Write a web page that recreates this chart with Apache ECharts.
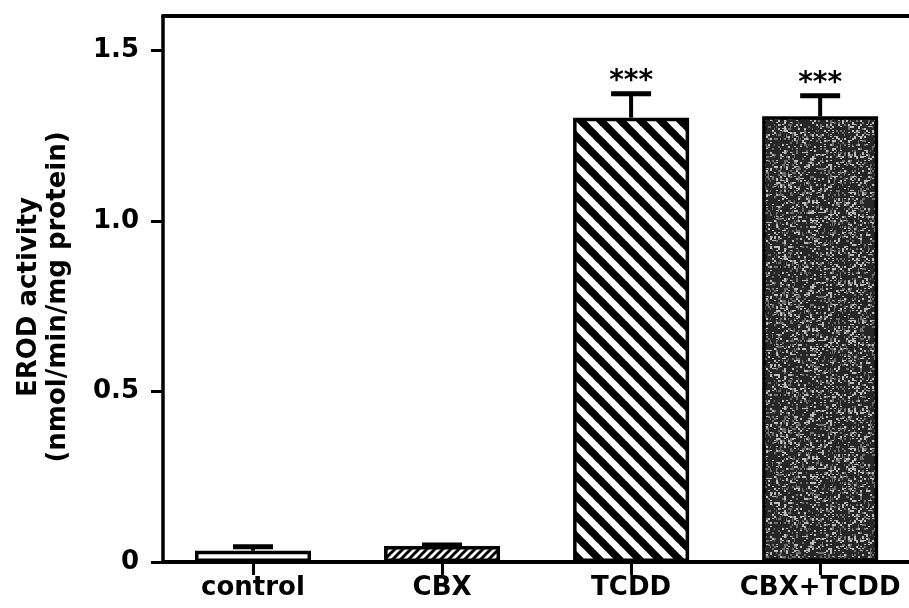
<!DOCTYPE html>
<html>
<head>
<meta charset="utf-8">
<script src="https://cdn.jsdelivr.net/npm/echarts@6/dist/echarts.min.js"></script>
<style>
html,body{margin:0;padding:0;background:#fff;}
#chart{width:909px;height:608px;}
</style>
</head>
<body>
<div id="chart"></div>
<script>
// ---- data ----
const categories = ['control', 'CBX', 'TCDD', 'CBX+TCDD'];
const positions = [1, 2, 3, 4];
const values = [0.033, 0.047, 1.302, 1.306];
const errors = [0.012, 0.003, 0.070, 0.060];
const significance = ['', '', '***', '***'];
const yTicks = [0, 0.5, 1.0, 1.5];
const yAxisTitle = 'EROD activity\n(nmol/min/mg protein)';

// ---- fill patterns ----
function makeCanvas(w, h, draw) {
  const c = document.createElement('canvas');
  c.width = w; c.height = h;
  const ctx = c.getContext('2d');
  draw(ctx, w, h);
  return c;
}
const whiteFill = '#ffffff';
const smallHatch = makeCanvas(8, 8, (ctx, w, h) => {
  ctx.fillStyle = '#fff'; ctx.fillRect(0, 0, w, h);
  ctx.strokeStyle = '#000'; ctx.lineWidth = 3;
  for (let k = -16; k <= 16; k += 8) {
    ctx.beginPath(); ctx.moveTo(k - 4, h + 4); ctx.lineTo(k + w + 4, -4); ctx.stroke();
  }
});
const wideStripes = makeCanvas(20, 20, (ctx, w, h) => {
  ctx.fillStyle = '#fff'; ctx.fillRect(0, 0, w, h);
  ctx.strokeStyle = '#000'; ctx.lineWidth = 7.5;
  for (let k = -40; k <= 40; k += 20) {
    ctx.beginPath(); ctx.moveTo(k - 10, -10); ctx.lineTo(k + w + 10, h + 10); ctx.stroke();
  }
});
const speckle = makeCanvas(128, 128, (ctx, w, h) => {
  ctx.fillStyle = '#262626'; ctx.fillRect(0, 0, w, h);
  for (let y = 0; y < h; y += 2) {
    for (let x = 0; x < w; x += 2) {
      const s = Math.sin(x * 12.9898 + y * 78.233) * 43758.5453;
      const r = s - Math.floor(s);
      if (r > 0.8) { ctx.fillStyle = '#bdbdbd'; ctx.fillRect(x, y, 2, 1 + (r > 0.9 ? 1 : 0)); }
      else if (r > 0.62) { ctx.fillStyle = '#6e6e6e'; ctx.fillRect(x, y, 1 + (r > 0.7 ? 1 : 0), 2); }
    }
  }
});
const fills = [
  whiteFill,
  { image: smallHatch, repeat: 'repeat' },
  { image: wideStripes, repeat: 'repeat' },
  { image: speckle, repeat: 'repeat' }
];

const FONT = 'DejaVu Sans';

const chart = echarts.init(document.getElementById('chart'), null, { renderer: 'canvas' });

const barData = positions.map((p, i) => ({
  value: [p, values[i]],
  itemStyle: { color: fills[i], borderColor: '#000', borderWidth: 3.5 }
}));
const errData = positions.map((p, i) => [p, values[i], errors[i], i]);

chart.setOption({
  animation: false,
  backgroundColor: '#fff',
  grid: { left: 163, right: 0, top: 16, bottom: 46 },
  xAxis: [{
    type: 'value',
    min: 0.524,
    max: 4.47,
    position: 'bottom',
    splitLine: { show: false },
    axisLine: { show: true, lineStyle: { color: '#000', width: 4 } },
    axisTick: { show: true, inside: false, length: 13, customValues: positions,
      lineStyle: { color: '#000', width: 3 } },
    axisLabel: {
      customValues: positions,
      formatter: v => categories[Math.round(v) - 1] || '',
      color: '#000', fontFamily: FONT, fontWeight: 'bold', fontSize: 26, margin: 13
    }
  }, {
    type: 'value',
    min: 0.524,
    max: 4.47,
    position: 'top',
    splitLine: { show: false },
    axisLine: { show: true, lineStyle: { color: '#000', width: 4 } },
    axisTick: { show: false },
    axisLabel: { show: false }
  }],
  yAxis: {
    type: 'value',
    min: 0,
    max: 1.6,
    splitLine: { show: false },
    axisLine: { show: true, lineStyle: { color: '#000', width: 3.5 } },
    axisTick: { show: true, inside: false, length: 12, customValues: yTicks,
      lineStyle: { color: '#000', width: 3 } },
    axisLabel: {
      customValues: yTicks,
      formatter: v => (v === 0 ? '0' : v.toFixed(1)),
      color: '#000', fontFamily: FONT, fontWeight: 'bold', fontSize: 26, margin: 24
    },
    name: yAxisTitle,
    nameLocation: 'middle',
    nameGap: 90,
    nameRotate: 90,
    nameTextStyle: {
      color: '#000', fontFamily: FONT, fontWeight: 'bold', fontSize: 26,
      lineHeight: 29, align: 'center', padding: [0, 16, 0, 0]
    }
  },
  series: [{
    type: 'bar',
    xAxisIndex: 0,
    barWidth: 116,
    data: barData,
    z: 2
  }, {
    type: 'custom',
    xAxisIndex: 0,
    data: errData,
    z: 3,
    renderItem: function (params, api) {
      const x = api.value(0), v = api.value(1), e = api.value(2), idx = api.value(3);
      const base = api.coord([x, v]);
      const top = api.coord([x, v + e]);
      const children = [{
        type: 'line',
        shape: { x1: base[0], y1: base[1], x2: top[0], y2: top[1] },
        style: { stroke: '#000', lineWidth: 4 }
      }, {
        type: 'line',
        shape: { x1: top[0] - 20, y1: top[1], x2: top[0] + 20, y2: top[1] },
        style: { stroke: '#000', lineWidth: 5 }
      }];
      const s = significance[idx];
      if (s) {
        children.push({
          type: 'text',
          style: {
            text: s, x: top[0], y: top[1] - 12,
            align: 'center', verticalAlign: 'middle',
            fill: '#000', font: 'bold 28px "DejaVu Sans"'
          }
        });
      }
      return { type: 'group', children: children };
    }
  }]
});
</script>
</body>
</html>
